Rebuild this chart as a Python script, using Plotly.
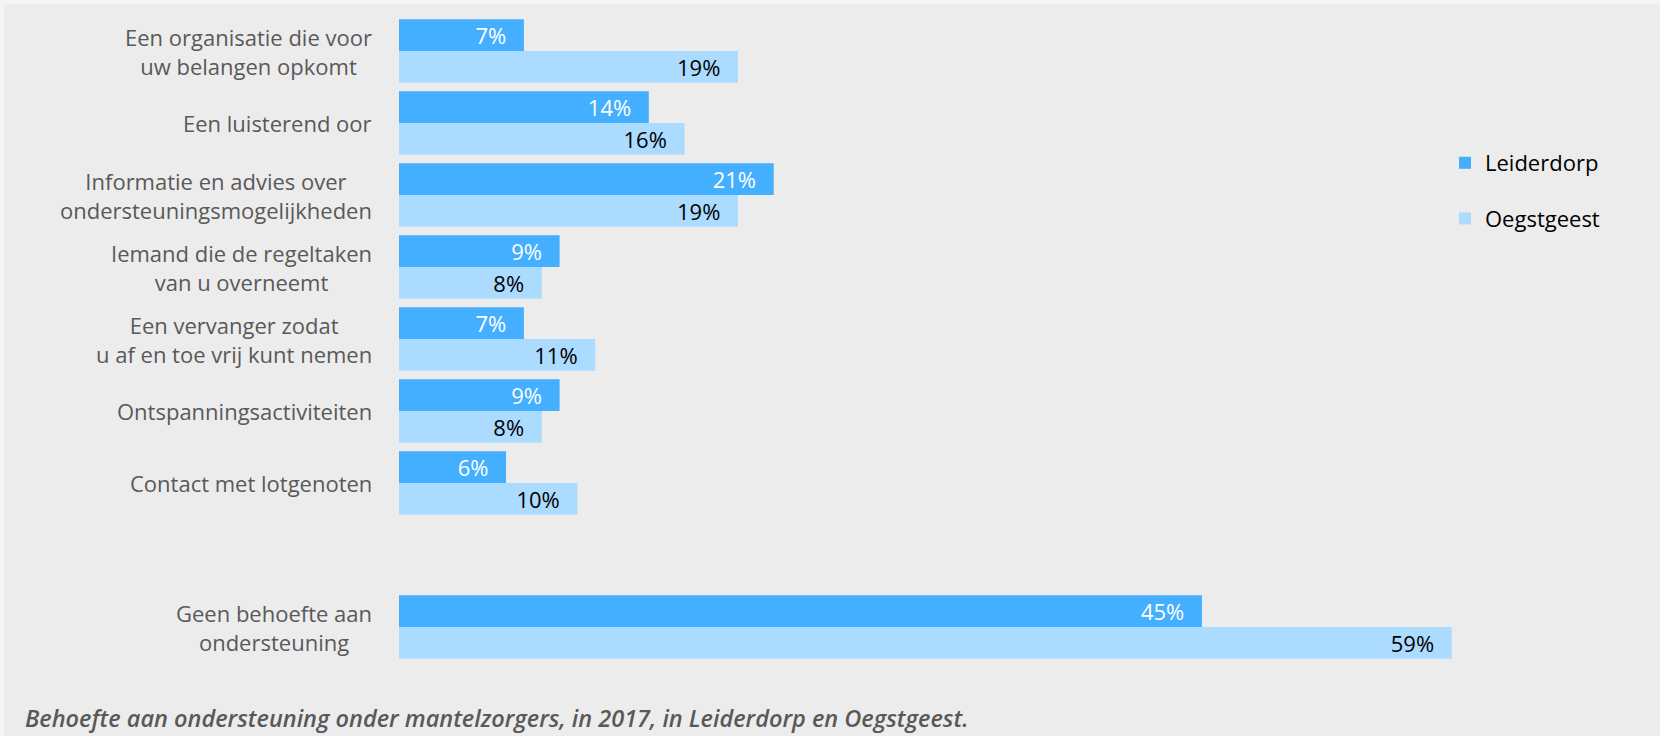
import plotly.graph_objects as go

categories = [
    "Een organisatie die voor<br>uw belangen opkomt",
    "Een luisterend oor",
    "Informatie en advies over<br>ondersteuningsmogelijkheden",
    "Iemand die de regeltaken<br>van u overneemt",
    "Een vervanger zodat<br>u af en toe vrij kunt nemen",
    "Ontspanningsactiviteiten",
    "Contact met lotgenoten",
    " ",
    "Geen behoefte aan<br>ondersteuning",
]
leiderdorp = [7, 14, 21, 9, 7, 9, 6, None, 45]
oegstgeest = [19, 16, 19, 8, 11, 8, 10, None, 59]
series_names = ["Leiderdorp", "Oegstgeest"]
caption = "Behoefte aan ondersteuning onder mantelzorgers, in 2017, in Leiderdorp en Oegstgeest."

W, H = 1660, 736
ML, MR, MT, MB = 399, 12, 15, 73
PW, PH = W - ML - MR, H - MT - MB
FONT = "Open Sans"
DARK = "#44aeff"
LIGHT = "#abdbff"
GREY_TXT = "#595959"


def pct(vals):
    # trailing spaces give the label some room from the bar end
    return [f"{v}%\u2002\u2009" if v is not None else "" for v in vals]


fig = go.Figure()
for name, vals, col, tcol, grp in [
    (series_names[0], leiderdorp, DARK, "white", "a"),
    (series_names[1], oegstgeest, LIGHT, "black", "b"),
]:
    fig.add_trace(go.Bar(
        y=categories, x=vals, name=name, orientation="h",
        marker=dict(color=col, line=dict(width=0)),
        text=pct(vals), textposition="inside", insidetextanchor="end",
        constraintext="none",
        textfont=dict(color=tcol, size=22, family=FONT),
        legendgroup=grp, cliponaxis=False,
    ))

# category labels, centred lines like the original
for c in categories:
    if c.strip():
        fig.add_annotation(
            x=0, xref="paper", y=c, yref="y", text=c, showarrow=False,
            xanchor="right", align="center", xshift=-25,
            font=dict(family=FONT, size=22, color=GREY_TXT),
        )

fig.add_annotation(
    x=(23 - ML) / PW, xref="paper", y=-(718 - MT - PH) / PH, yref="paper",
    text=f"<i>{caption}</i>", showarrow=False, xanchor="left", yanchor="middle",
    font=dict(family=FONT, size=23.5, color=GREY_TXT, weight=600),
)

# thin light strip on top and left edge
fig.add_shape(type="rect", xref="paper", yref="paper",
              x0=-ML / PW, x1=(W - ML) / PW, y0=1 + (MT - 4) / PH, y1=1 + MT / PH,
              fillcolor="#f5f5f5", line_width=0, layer="below")
fig.add_shape(type="rect", xref="paper", yref="paper",
              x0=-ML / PW, x1=(4 - ML) / PW, y0=-MB / PH, y1=1 + MT / PH,
              fillcolor="#f5f5f5", line_width=0, layer="below")

fig.update_layout(
    width=W, height=H,
    margin=dict(l=ML, r=MR, t=MT, b=MB),
    barmode="group", bargap=0.118, bargroupgap=0,
    paper_bgcolor="#ececec", plot_bgcolor="#ececec",
    font=dict(family=FONT, size=22, color="black"),
    xaxis=dict(range=[0, 70], visible=False, fixedrange=True),
    yaxis=dict(autorange="reversed", showticklabels=False, showgrid=False,
               zeroline=False, showline=False, ticks=""),
    legend=dict(x=(1445 - ML) / PW, y=1 - (142 - MT) / PH, xanchor="left", yanchor="top",
                traceorder="grouped", tracegroupgap=24, bgcolor="rgba(0,0,0,0)",
                font=dict(family=FONT, size=22, color="black")),
    showlegend=True,
)

fig.write_html("out.html", config={"displayModeBar": False},
               post_script="document.body.style.margin='0';")
